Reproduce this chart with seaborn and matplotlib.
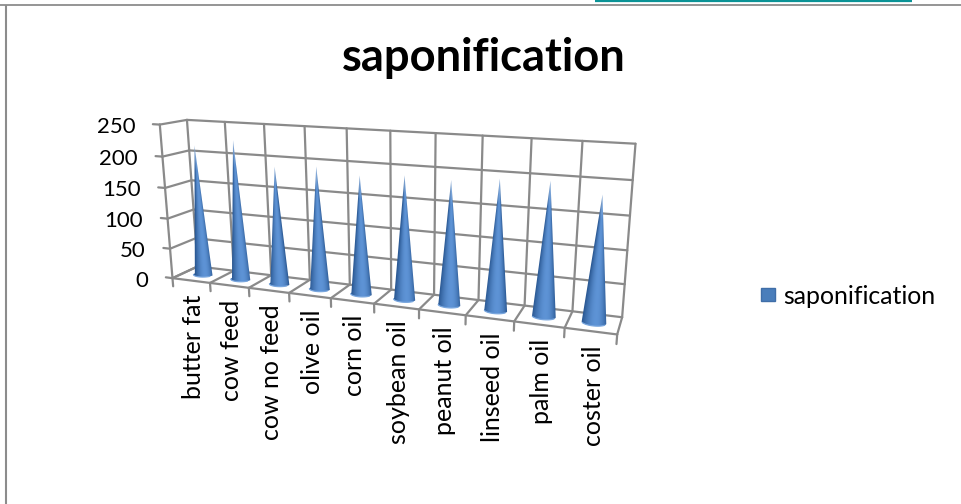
import numpy as np
import pandas as pd
import matplotlib
matplotlib.use("Agg")
import matplotlib.pyplot as plt
from matplotlib.patches import Patch, Polygon
import seaborn as sns

categories = ["butter fat", "cow feed", "cow no feed", "olive oil", "corn oil",
              "soybean oil", "peanut oil", "linseed oil", "palm oil", "coster oil"]
saponification = [215, 227, 190, 195, 186, 191, 189, 196, 198, 184]
value_ticks = [0, 50, 100, 150, 200, 250]
series_name = "saponification"

sns.set_theme(style="white")
plt.rcParams["font.family"] = ["Lato", "DejaVu Sans"]

W, H = 961, 504
fig = plt.figure(figsize=(W / 100, H / 100), dpi=100, facecolor="white")
ax = fig.add_axes([0, 0, 1, 1])
ax.set_xlim(0, W)
ax.set_ylim(H, 0)
ax.axis("off")

# Fit one perspective camera: (category, value, depth) -> picture position
calib = [
    (0, 250, 0, 160, 125), (0, 0, 0, 172, 277), (0, 250, 1, 187, 119), (0, 0, 1, 198, 267),
    (10, 250, 1, 636, 143), (10, 0, 1, 622, 317), (10, 0, 0, 617, 334),
    (1, 250, 1, 225, 122), (2, 250, 1, 264, 124), (3, 250, 1, 304, 126),
    (6, 250, 1, 436, 134), (7, 250, 1, 482, 136), (8, 250, 1, 532, 138), (9, 250, 1, 582, 141),
    (1, 0, 0, 210, 283), (2, 0, 0, 249, 288), (3, 0, 0, 289, 293), (4, 0, 0, 331, 299),
    (6, 0, 0, 419, 309), (7, 0, 0, 466, 315), (8, 0, 0, 514, 322), (9, 0, 0, 565, 328),
]
A, b = [], []
for c, v, d, u, w in calib:
    X = [c, v / 50.0, d, 1.0]
    A.append(X + [0, 0, 0, 0] + [-u * t for t in X[:3]])
    A.append([0, 0, 0, 0] + X + [-w * t for t in X[:3]])
    b += [u, w]
sol = np.linalg.lstsq(np.array(A), np.array(b, float), rcond=None)[0]
P = np.append(sol, 1.0).reshape(3, 4)


def project(c, v, d):
    c, v, d = np.broadcast_arrays(np.asarray(c, float), np.asarray(v, float), np.asarray(d, float))
    pts = np.stack([c, v / 50.0, d, np.ones_like(c)], axis=-1)
    q = pts @ P.T
    return q[..., 0] / q[..., 2], q[..., 1] / q[..., 2]


# Frame of the chart area and the teal strip above it
frame = "#8c8c8c"
ax.plot([6, 6], [5, H], color=frame, lw=1.5, solid_capstyle="butt")
ax.plot([0, W], [5, 5], color=frame, lw=1.3, solid_capstyle="butt")
ax.plot([595, 912], [0.6, 0.6], color="#0a9396", lw=1.6, solid_capstyle="butt")

# Gridlines, tick marks and walls
n = len(categories)
segs = []
for v in value_ticks:
    segs.append(((0, v, 1), (n, v, 1)))
    segs.append(((0, v, 0), (0, v, 1)))
    segs.append(((-0.18, v, 0), (0, v, 0)))
for i in range(n + 1):
    segs.append(((i, 0, 1), (i, 250, 1)))
    segs.append(((i, 0, 0), (i, 0, 1)))
    segs.append(((i, 0, 0), (i, -14, 0)))
segs.append(((0, 0, 0), (n, 0, 0)))
segs.append(((0, 0, 0), (0, 250, 0)))
rows = []
for k, (p0, p1) in enumerate(segs):
    for p in (p0, p1):
        x, y = project(*p)
        rows.append({"x": float(x), "y": float(y), "seg": k})
grid = pd.DataFrame(rows)
sns.lineplot(data=grid, x="x", y="y", units="seg", estimator=None, sort=False,
             color="#8a8a8a", lw=1.6, ax=ax, legend=False)

# Cones: a shaded picture clipped to the projected outline of each cone
dark = np.array([0.16, 0.34, 0.57])
mid = np.array([0.37, 0.58, 0.84])
tip = np.array([0.72, 0.82, 0.94])
for i, val in enumerate(saponification):
    th = np.linspace(np.pi, 2 * np.pi, 61)
    rx, ry = project(i + 0.5 + 0.24 * np.cos(th), 0 * th, 0.5 + 0.2 * np.sin(th))
    ax_, ay_ = project(i + 0.5, val, 0.5)
    ax_, ay_ = float(ax_), float(ay_)
    xmin, xmax = min(rx.min(), ax_) - 1, max(rx.max(), ax_) + 1
    ymin, ymax = ay_ - 1, ry.max() + 1
    nx, ny = int((xmax - xmin) * 5), int((ymax - ymin) * 3)
    gx, gy = np.meshgrid(np.linspace(xmin, xmax, nx), np.linspace(ymin, ymax, ny))
    h = np.clip((gy - ay_) / (ry[0] - ay_), 0.001, 1.0)
    left = ax_ + (rx[0] - ax_) * h
    right = ax_ + (rx[-1] - ax_) * h
    u = np.clip((gx - left) / (right - left), 0, 1)
    shade = np.clip(np.sin(np.pi * u) ** 0.8 * (0.75 + 0.45 * u), 0, 1)
    img = dark + (mid - dark) * shade[..., None]
    fade = np.clip((0.2 - h) / 0.2, 0, 1)[..., None] * 0.75
    img = img * (1 - fade) + tip * fade
    im = ax.imshow(img, extent=(xmin, xmax, ymax, ymin), origin="upper",
                   aspect="auto", zorder=3, interpolation="bilinear")
    outline = Polygon(np.column_stack([np.r_[ax_, rx], np.r_[ay_, ry]]),
                      transform=ax.transData, facecolor="none", edgecolor="none")
    ax.add_patch(outline)
    im.set_clip_path(outline)
    ax.plot(rx[8:-8], ry[8:-8], color="#78a6de", lw=0.9, zorder=4)

ax.set_xlim(0, W)
ax.set_ylim(H, 0)
ax.axis("off")

# Text
ax.text(483.5, 58, series_name, ha="center", va="center", fontsize=32.6,
        fontweight="bold", color="black")
for v in value_ticks:
    x, y = project(0, v, 0)
    ax.text(float(x) - 24.5, float(y) + 2.5, str(v), ha="right", va="center",
            fontsize=16, color="black")
for i, name in enumerate(categories):
    x, y = project(i + 0.5, 0, 0)
    ax.text(float(x) + 2.5, float(y) + 14, name, rotation=90, ha="center", va="top",
            fontsize=18, color="black")

ax.legend(handles=[Patch(facecolor="#4a7ebb", edgecolor="#3f6ea8", label=series_name)],
          loc="center left", bbox_to_anchor=(739 / W, 1 - 296 / H), frameon=False,
          fontsize=17.9, handlelength=0.53, handleheight=0.42, handletextpad=0.35,
          labelcolor="black")

fig.savefig("out.png", dpi=100, facecolor="white")
